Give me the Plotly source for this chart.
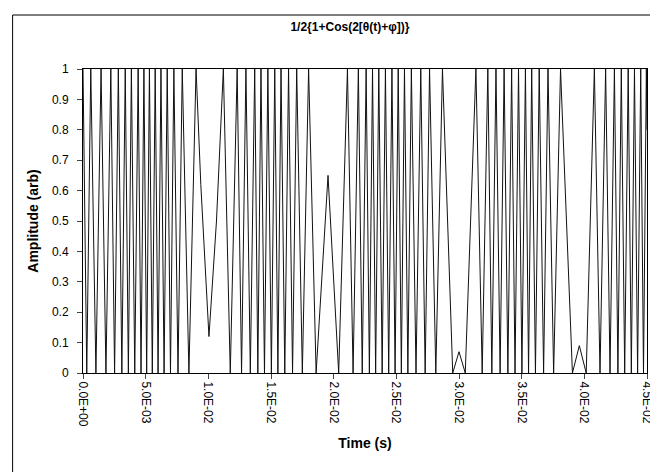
import plotly.graph_objects as go

# extremes of the trace (time in ms)
time_ms = [
    0.00, 0.30, 0.62, 1.03, 1.44, 1.83, 2.22, 2.52, 2.82, 3.10,
    3.37, 3.62, 3.86, 4.13, 4.40, 4.63, 4.86, 5.08, 5.30, 5.53,
    5.76, 5.99, 6.22, 6.47, 6.72, 6.98, 7.25, 7.58, 7.92, 8.45,
    9.02, 9.40, 10.05, 10.65, 11.20, 11.75, 12.30, 12.65, 13.00, 13.35,
    13.70, 13.95, 14.20, 14.48, 14.75, 15.03, 15.30, 15.55, 15.80, 16.10,
    16.40, 16.72, 17.05, 17.50, 18.00, 18.60, 19.55, 20.40, 21.10, 21.55,
    21.97, 22.28, 22.59, 22.85, 23.10, 23.35, 23.60, 23.87, 24.13, 24.39,
    24.65, 24.90, 25.15, 25.40, 25.65, 25.92, 26.20, 26.57, 26.95, 27.30,
    27.65, 28.15, 28.68, 29.50, 30.00, 30.50, 31.35, 31.85, 32.30, 32.62,
    32.95, 33.28, 33.60, 33.90, 34.20, 34.47, 34.75, 35.02, 35.30, 35.55,
    35.80, 36.10, 36.40, 36.75, 37.10, 37.55, 38.10, 39.05, 39.60, 40.15,
    40.80, 41.25, 41.70, 42.05, 42.40, 42.68, 42.95, 43.22, 43.50, 43.75,
    44.00, 44.25, 44.50, 44.72, 44.95, 45.00,
]
amplitude = [
    1, 0, 1, 0, 1, 0, 1, 0, 1, 0,
    1, 0, 1, 0, 1, 0, 1, 0, 1, 0,
    1, 0, 1, 0, 1, 0, 1, 0, 1, 0,
    1, 0.62, 0.12, 0.5, 1, 0, 1, 0, 1, 0,
    1, 0, 1, 0, 1, 0, 1, 0, 1, 0,
    1, 0, 1, 0, 1, 0, 0.65, 0, 1, 0,
    1, 0, 1, 0, 1, 0, 1, 0, 1, 0,
    1, 0, 1, 0, 1, 0, 1, 0, 1, 0,
    1, 0, 1, 0, 0.07, 0, 1, 0, 1, 0,
    1, 0, 1, 0, 1, 0, 1, 0, 1, 0,
    1, 0, 1, 0, 1, 0, 1, 0, 0.09, 0,
    1, 0, 1, 0, 1, 0, 1, 0, 1, 0,
    1, 0, 1, 0, 1, 0.8,
]

xtick_vals = [0, 0.005, 0.01, 0.015, 0.02, 0.025, 0.03, 0.035, 0.04, 0.045]
xtick_text = ['0.0E+00', '5.0E-03', '1.0E-02', '1.5E-02', '2.0E-02',
              '2.5E-02', '3.0E-02', '3.5E-02', '4.0E-02', '4.5E-02']

time_s = [t / 1000 for t in time_ms]

font = 'Arial, Liberation Sans, sans-serif'
L, R, T, B = 75, 14, 61, 107
W, H = 658, 472
pw, ph = W - L - R, H - T - B

fig = go.Figure(go.Scatter(x=time_s, y=amplitude, mode='lines',
                           line=dict(color='#111111', width=1)))

fig.update_layout(
    width=W, height=H,
    margin=dict(l=L, r=R, t=T, b=B),
    paper_bgcolor='white', plot_bgcolor='white',
    showlegend=False,
    font=dict(family=font, size=12, color='black'),
    title=dict(text='<b>1/2{1+Cos(2[θ(t)+φ])}</b>', x=342 / W, xanchor='center',
               y=1 - 19 / H, yanchor='middle', font=dict(size=12)),
    xaxis=dict(range=[0, 0.045], tickvals=xtick_vals, ticktext=xtick_text,
               tickangle=90, ticks='outside', ticklen=5, showgrid=False,
               zeroline=False, showline=True, linecolor='black', mirror=True,
               title=dict(text='<b>Time (s)</b>', standoff=12)),
    yaxis=dict(range=[0, 1], dtick=0.1, ticks='outside', ticklen=5,
               ticklabelstandoff=6,
               showgrid=False, zeroline=False, showline=True,
               linecolor='black', mirror=True,
               title=dict(text='<b>Amplitude (arb)</b>', standoff=10)),
)

# chart frame (left and top edges visible)
fig.add_shape(type='rect', xref='paper', yref='paper',
              x0=(4 - L) / pw, x1=(W + 20 - L) / pw,
              y0=(H - B - (H + 20)) / ph, y1=(H - B - 7) / ph,
              line=dict(color='black', width=1))

fig.write_html('out.html')
